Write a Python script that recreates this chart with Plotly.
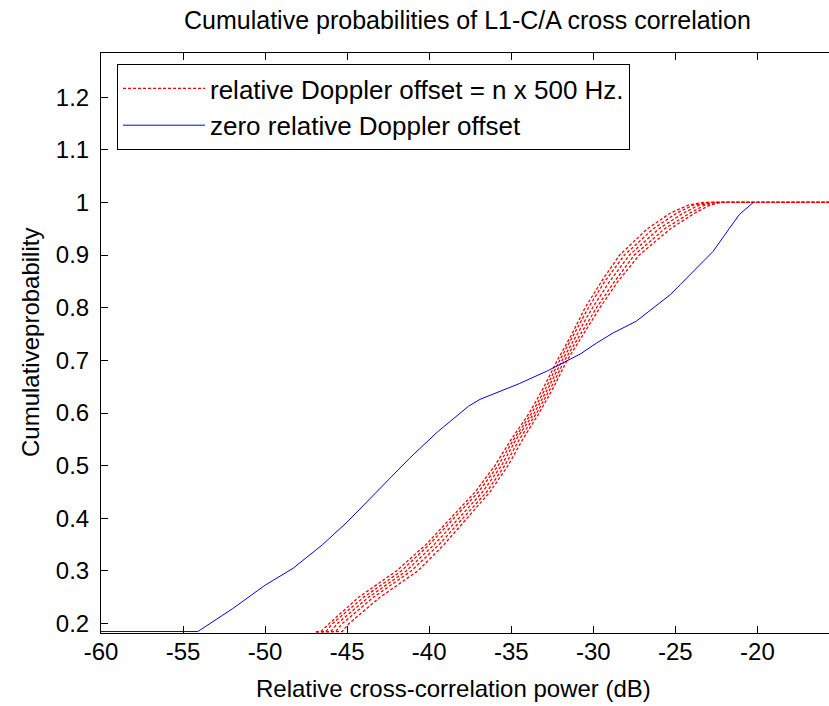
import plotly.graph_objects as go

# ---- data ----
x_tick_vals = [-60, -55, -50, -45, -40, -35, -30, -25, -20]
x_tick_text = ["-60", "-55", "-50", "-45", "-40", "-35", "-30", "-25", "-20"]
y_tick_vals = [0.2, 0.3, 0.4, 0.5, 0.6, 0.7, 0.8, 0.9, 1.0, 1.1, 1.2]
y_tick_text = ["0.2", "0.3", "0.4", "0.5", "0.6", "0.7", "0.8", "0.9", "1", "1.1", "1.2"]

# zero relative Doppler offset (blue)
blue_x = [-60.0, -54.1, -52.0, -50.0, -48.3, -46.5, -45.0, -43.4, -41.2, -39.5, -38.5,
          -37.6, -36.9, -34.5, -32.8, -30.8, -29.8, -28.8, -27.4, -26.35, -25.3, -24.7,
          -23.9, -22.7, -21.7, -21.1, -20.25]
blue_y = [0.185, 0.185, 0.228, 0.273, 0.305, 0.350, 0.393, 0.444, 0.514, 0.564, 0.590,
          0.613, 0.626, 0.656, 0.680, 0.712, 0.733, 0.752, 0.774, 0.800, 0.825, 0.844,
          0.869, 0.907, 0.951, 0.977, 1.000]

# relative Doppler offset = n x 500 Hz (red, several curves)
red_levels = [0.185, 0.185, 0.2, 0.25, 0.3, 0.35, 0.4, 0.45, 0.5, 0.55, 0.6, 0.65,
              0.7, 0.75, 0.8, 0.85, 0.9, 0.95, 0.98, 0.995, 1.0, 1.0]
red_n1 = [-46.9, -46.6, -46.1, -44.3, -42.0, -40.2, -38.7, -37.2, -36.0, -35.0, -33.9,
          -33.0, -32.2, -31.3, -30.5, -29.5, -28.4, -26.7, -25.3, -24.2, -23.3, -15.0]
red_n2 = [-46.9, -46.3, -45.9, -44.0, -41.7, -40.0, -38.5, -37.0, -35.8, -34.85, -33.75,
          -32.85, -32.05, -31.15, -30.3, -29.3, -28.1, -26.35, -24.9, -23.9, -23.0, -15.0]
red_n3 = [-46.9, -46.0, -45.6, -43.7, -41.4, -39.7, -38.2, -36.75, -35.6, -34.7, -33.6,
          -32.7, -31.9, -30.95, -30.05, -29.0, -27.8, -26.0, -24.5, -23.55, -22.7, -15.0]
red_n4 = [-46.9, -45.7, -45.3, -43.4, -41.1, -39.4, -37.95, -36.5, -35.4, -34.5, -33.45,
          -32.55, -31.75, -30.75, -29.8, -28.7, -27.5, -25.65, -24.1, -23.2, -22.5, -15.0]
red_n5 = [-46.9, -45.3, -44.9, -43.0, -40.7, -39.1, -37.7, -36.3, -35.2, -34.3, -33.3,
          -32.4, -31.6, -30.6, -29.6, -28.5, -27.2, -25.3, -23.8, -22.9, -22.2, -15.0]
red_curves = [red_n1, red_n2, red_n3, red_n4, red_n5]

title_text = "Cumulative probabilities of L1-C/A cross correlation"
x_label = "Relative cross-correlation power (dB)"
y_label = "Cumulativeprobability"
red_name = "relative Doppler offset = n x 500 Hz."
blue_name = "zero relative Doppler offset"

FONT = "Liberation Sans, Arial, sans-serif"

fig = go.Figure()
for i, cx in enumerate(red_curves):
    fig.add_trace(go.Scatter(
        x=cx, y=red_levels, mode="lines",
        line=dict(color="#ff0000", width=1.3, dash="3px,2px"),
        name=red_name, legendgroup="red", showlegend=(i == 0),
    ))
fig.add_trace(go.Scatter(
    x=blue_x, y=blue_y, mode="lines",
    line=dict(color="#0000ff", width=1),
    name=blue_name,
))

L, T, B = 101, 53, 73
W, H = 829, 706
PW = W - L
PH = H - T - B

fig.update_layout(
    width=W, height=H,
    margin=dict(l=L, r=0, t=T, b=B, pad=0),
    paper_bgcolor="white", plot_bgcolor="white",
    font=dict(family=FONT, color="black", size=24),
    showlegend=True,
    legend=dict(
        x=(117 - L) / PW, y=1 - (64 - T) / PH, xanchor="left", yanchor="top",
        bordercolor="black", borderwidth=1, bgcolor="white",
        font=dict(family=FONT, size=26, color="black"),
        itemwidth=82, tracegroupgap=0,
    ),
    xaxis=dict(
        range=[-60, -60 + PW / 16.41],
        tickmode="array", tickvals=x_tick_vals, ticktext=x_tick_text,
        ticks="inside", ticklen=7, tickcolor="black", tickwidth=1,
        showline=True, linecolor="black", linewidth=1, mirror="ticks",
        showgrid=False, zeroline=False,
        tickfont=dict(family=FONT, size=24, color="black"),
        ticklabelstandoff=-3,
    ),
    yaxis=dict(
        range=[0.1822, 1.2838],
        tickmode="array", tickvals=y_tick_vals, ticktext=y_tick_text,
        ticks="inside", ticklen=7, tickcolor="black", tickwidth=1,
        showline=True, linecolor="black", linewidth=1, mirror=False,
        showgrid=False, zeroline=False,
        tickfont=dict(family=FONT, size=24, color="black"),
        ticklabelstandoff=6,
    ),
    annotations=[
        dict(text=title_text, xref="paper", yref="paper", x=(467.5 - L) / PW, y=1,
             xanchor="center", yanchor="middle", yshift=T - 20, showarrow=False,
             font=dict(family=FONT, size=25, color="black")),
        dict(text=x_label, xref="paper", yref="paper", x=(453 - L) / PW, y=0,
             xanchor="center", yanchor="middle", yshift=-(688 - (T + PH)), showarrow=False,
             font=dict(family=FONT, size=24, color="black")),
        dict(text=y_label, xref="paper", yref="paper", x=0, y=0.5,
             xanchor="center", yanchor="middle", xshift=-(L - 30), textangle=-90,
             showarrow=False, font=dict(family=FONT, size=24, color="black")),
    ],
)

fig.write_html("out.html")
